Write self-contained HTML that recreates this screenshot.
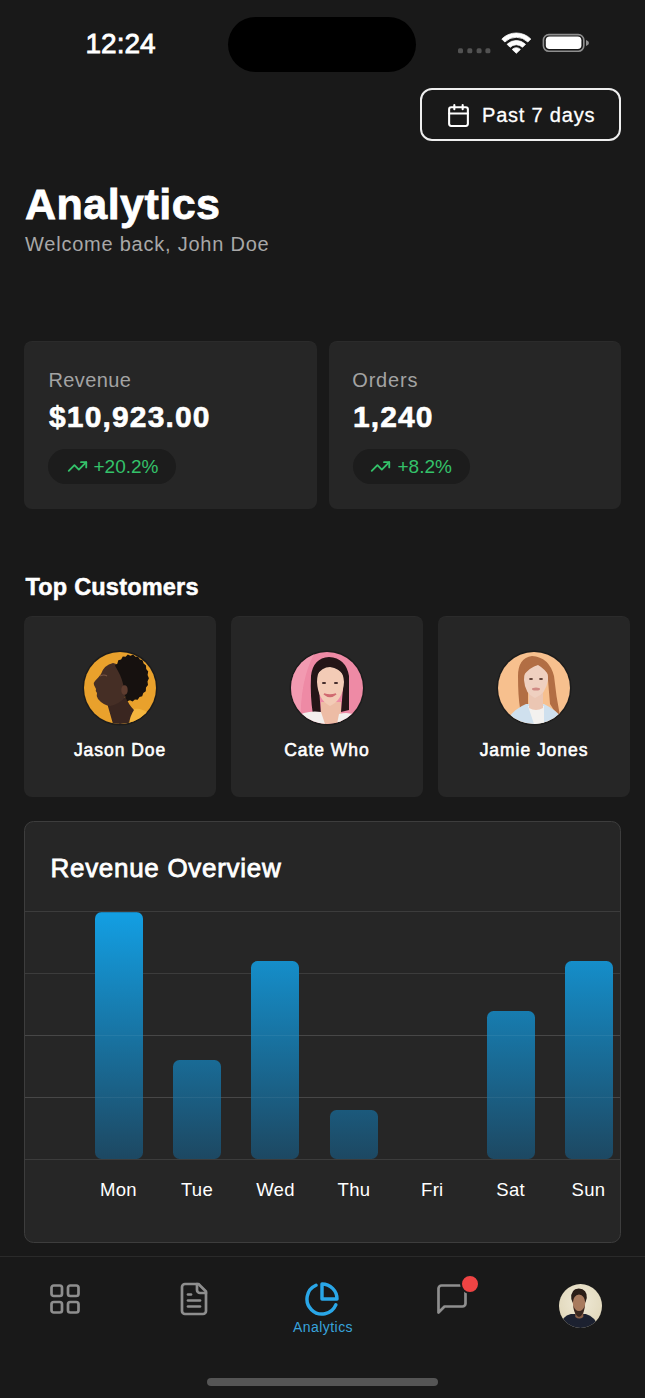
<!DOCTYPE html>
<html><head><meta charset="utf-8">
<style>
*{margin:0;padding:0;box-sizing:border-box}
html,body{width:645px;height:1398px;background:#191919;overflow:hidden}
body{position:relative;font-family:"Liberation Sans",sans-serif;color:#fff}
.abs{position:absolute;line-height:1;white-space:nowrap}
.island{left:228px;top:16.5px;width:188px;height:55px;background:#000;border-radius:27.5px}
.time{left:85.5px;top:30px;font-size:28px;-webkit-text-stroke:0.8px #fff;letter-spacing:0px}
.btn{left:420px;top:88px;width:201px;height:53px;border:2px solid #eeeeee;border-radius:12px}
.btntxt{left:482px;top:104.7px;font-size:20px;letter-spacing:0.8px;-webkit-text-stroke:0.3px #fff}
.title{left:25px;top:183px;font-size:43px;font-weight:bold;letter-spacing:0.47px;-webkit-text-stroke:0.8px #fff}
.sub{left:25px;top:233.6px;font-size:20px;color:#a8a8a8;letter-spacing:0.77px}
.card{background:#262626;border-radius:8px;box-shadow:inset 0 1px 0 rgba(255,255,255,0.025)}
.lbl{font-size:20px;color:#a3a3a3}
.val{font-size:30px;font-weight:bold;-webkit-text-stroke:0.6px #fff}
.badge{background:#1c1c1c;border-radius:18px;height:35.5px}
.green{color:#34c26a;font-size:19px}
.h2{left:25.5px;top:576.2px;font-size:23.5px;font-weight:bold;letter-spacing:0.2px;-webkit-text-stroke:0.5px #fff}
.cust{top:616px;width:192px;height:180.5px}
.av{width:72px;height:72px;border-radius:50%;overflow:hidden;box-shadow:0 0 0 1.5px #1c1c1c}
.av svg{display:block}
.name{top:741.7px;font-size:17.5px;-webkit-text-stroke:0.6px #fff;width:192px;text-align:center;letter-spacing:0.95px}
.chart{left:23.8px;top:820.6px;width:597.2px;height:422.6px;border:1.8px solid #3d3d3d;border-radius:9.5px;background:#262626}
.grid{left:25px;width:595px;height:1px;background:#3c3c3c}
.grid2{left:25px;width:595px;height:1px;background:rgba(255,255,255,0.06)}
.bar{width:48px;border-radius:6.5px;background:linear-gradient(#139fe3,#1d4862);background-size:48px 247px;background-position:0 100%}
.day{top:1180.6px;font-size:18.5px;width:80px;text-align:center;letter-spacing:0.3px}
.tabline{left:0;top:1255.5px;width:645px;height:1px;background:#2a2a2a}
.home{left:207px;top:1378px;width:231px;height:8px;border-radius:4px;background:#555555}
</style></head><body>
<div class="abs time">12:24</div>
<div class="abs island"></div>
<!-- status icons -->
<svg class="abs" style="left:450px;top:25px" width="150" height="40" viewBox="0 0 150 40">
  <g fill="#525252"><rect x="8" y="23.3" width="5" height="5" rx="1.6"/><rect x="17.3" y="23.3" width="5" height="5" rx="1.6"/><rect x="26.6" y="23.3" width="5" height="5" rx="1.6"/><rect x="35.4" y="23.3" width="5" height="5" rx="1.6"/></g>
  <g fill="#fff" stroke="#fff" stroke-width="0.8" stroke-linejoin="round">
  <path d="M51.8 14 A20.5 20.5 0 0 1 80.8 14 L77.8 17 A16.3 16.3 0 0 0 54.8 17 Z"/>
  <path d="M57.1 19.3 A13 13 0 0 1 75.5 19.3 L72.5 22.3 A8.8 8.8 0 0 0 60.1 22.3 Z"/>
  <path d="M66.3 28.3 L62.2 24.4 A5.8 5.8 0 0 1 70.4 24.4 Z"/>
  </g>
  <rect x="93.4" y="9.6" width="40.4" height="16.6" rx="5.5" fill="none" stroke="#8e8e8e" stroke-width="1.6"/>
  <rect x="95.8" y="11.4" width="35.6" height="12.6" rx="3.8" fill="#fff"/>
  <path d="M136 15 Q139 16 139 18 Q139 20 136 21Z" fill="#8e8e8e"/>
</svg>
<div class="abs btn"></div>
<svg class="abs" style="left:446px;top:102.5px" width="25" height="25" viewBox="0 0 24 24" fill="none" stroke="#fff" stroke-width="2" stroke-linecap="round" stroke-linejoin="round"><rect x="3" y="4" width="18" height="18" rx="2"/><path d="M16 2v4M8 2v4M3 10h18"/></svg>
<div class="abs btntxt">Past 7 days</div>

<div class="abs title">Analytics</div>
<div class="abs sub">Welcome back, John Doe</div>

<div class="abs card" style="left:24px;top:341px;width:292.5px;height:167.5px"></div>
<div class="abs lbl" style="left:48.5px;top:370.1px;letter-spacing:0.37px">Revenue</div>
<div class="abs val" style="left:49px;top:401.8px;letter-spacing:1.15px">$10,923.00</div>
<div class="abs badge" style="left:48.3px;top:448.8px;width:127.5px"></div>
<svg class="abs" style="left:66.5px;top:456.2px" width="21" height="21" viewBox="0 0 24 24" fill="none" stroke="#34c26a" stroke-width="2.1" stroke-linecap="round" stroke-linejoin="round"><path d="M22 7 13.5 15.5 8.5 10.5 2 17"/><path d="M16 7h6v6"/></svg>
<div class="abs green" style="left:93.5px;top:457.1px">+20.2%</div>

<div class="abs card" style="left:328.5px;top:341px;width:292.5px;height:167.5px"></div>
<div class="abs lbl" style="left:352.3px;top:370.1px;letter-spacing:0.8px">Orders</div>
<div class="abs val" style="left:353px;top:401.8px;letter-spacing:1.1px">1,240</div>
<div class="abs badge" style="left:353.3px;top:448.8px;width:116.5px"></div>
<svg class="abs" style="left:370.2px;top:456.2px" width="21" height="21" viewBox="0 0 24 24" fill="none" stroke="#34c26a" stroke-width="2.1" stroke-linecap="round" stroke-linejoin="round"><path d="M22 7 13.5 15.5 8.5 10.5 2 17"/><path d="M16 7h6v6"/></svg>
<div class="abs green" style="left:397.5px;top:457.1px">+8.2%</div>

<div class="abs h2">Top Customers</div>
<div class="abs card cust" style="left:24px"></div>
<div class="abs card cust" style="left:231px"></div>
<div class="abs card cust" style="left:438px"></div>
<div class="abs av" style="left:84px;top:652px;background:#e9a12c"><svg width="72" height="72" viewBox="0 0 72 72">
<path d="M34 62 Q46 56 56 57 Q66 60 72 68 V72 H34Z" fill="#f3b53e"/>
<path d="M23 51 L29 72 L45 72 Q46 64 50 58 Q44 52 42 45 Z" fill="#3a2620"/>
<path d="M29 11 Q36 12 40 20 L42 44 Q36 52 26 54 Q19 53 14 47 Q12 44 13 41 Q11 39 12 37 L10 33 Q9 31 11 29 Q15 25 17 22 Q20 13 29 11 Z" fill="#452e25"/>
<path d="M16 24 Q20 22 23 24" stroke="#7a5646" stroke-width="1.2" fill="none"/>
<path d="M30.9 13.5 L33.3 11.7 L34.3 8.3 L37.1 7.5 L38.8 4.6 L41.6 4.8 L43.8 2.6 L46.5 3.8 L49.1 2.6 L51.4 4.7 L54.2 4.5 L55.9 7.4 L58.6 8.2 L59.6 11.6 L62.0 13.4 L62.2 17.0 L64.2 19.6 L63.6 23.1 L64.9 26.3 L63.5 29.5 L64.0 33.0 L62.0 35.6 L61.8 39.2 L59.3 40.9 L58.2 44.2 L55.5 44.9 L53.7 47.7 L50.9 47.4 L48.6 49.5 L46.0 48.2 L43.3 49.3 Q40 44 40 36 Q38 26 34 19 Z" fill="#16110f"/>
<ellipse cx="40.5" cy="38" rx="3.2" ry="4.8" fill="#5e3c2f"/>
</svg></div>
<div class="abs av" style="left:291px;top:652px;background:#ee8aa5"><svg width="72" height="72" viewBox="0 0 72 72">
<path d="M0 0 H24 Q8 30 10 72 H0Z" fill="#f5a8bb" opacity="0.55"/>
<path d="M38 5 Q22 6 20 24 Q19 44 22 63 L30 63 L28 36 L52 36 L50 60 L58 58 Q58 40 58 24 Q55 6 38 5 Z" fill="#241517"/>
<path d="M30 50 L30 72 L50 72 L50 50 Z" fill="#edbca5"/>
<path d="M4 66 Q14 58 30 60 L34 72 L0 72 Z" fill="#f3efed"/>
<path d="M48 62 Q58 59 66 64 L72 72 H46Z" fill="#f3efed"/>
<path d="M39 13 Q26 14 26 30 Q27 48 39 54 Q52 48 53 30 Q52 14 39 13 Z" fill="#f3cbb6"/>
<path d="M39 10 Q27 11 25 24 Q31 15 39 15 Q48 16 53 24 Q51 11 39 10 Z" fill="#241517"/>
<path d="M33 42 Q39 47 45 42 Q39 44 33 42Z" fill="#d06a70" stroke="#d06a70" stroke-width="1.5"/>
<ellipse cx="33" cy="31" rx="2.2" ry="1" fill="#3a2424"/><ellipse cx="45" cy="31" rx="2.2" ry="1" fill="#3a2424"/>
</svg></div>
<div class="abs av" style="left:498px;top:652px;background:#f7c08e"><svg width="72" height="72" viewBox="0 0 72 72">
<path d="M34 4 Q20 6 20 24 Q20 44 22 56 L30 56 L30 28 L50 28 L52 52 Q58 62 62 64 Q58 44 56 24 Q51 5 34 4Z" fill="#b26e44"/>
<path d="M10 66 Q18 56 28 52 L46 52 Q58 58 64 66 L70 72 L2 72 Z" fill="#cfe0ee"/>
<path d="M30 54 L36 72 L46 72 L46 54 Z" fill="#f3f1ef"/>
<path d="M31 40 L31 56 Q38 60 45 56 L45 40 Z" fill="#ebc6b3"/>
<path d="M38 12 Q26 13 26 28 Q27 42 37 46 Q48 42 50 28 Q51 13 38 12Z" fill="#efd0c0"/>
<path d="M37 9 Q26 11 25 24 Q32 15 40 13 Q47 17 51 24 Q49 9 37 9Z" fill="#b26e44"/>
<ellipse cx="38" cy="37" rx="4" ry="1.5" fill="#d08a84"/>
<ellipse cx="33" cy="27" rx="2" ry="0.9" fill="#5a3a30"/><ellipse cx="43" cy="27" rx="2" ry="0.9" fill="#5a3a30"/>
</svg></div>
<div class="abs name" style="left:24px">Jason Doe</div>
<div class="abs name" style="left:231px">Cate Who</div>
<div class="abs name" style="left:438px">Jamie Jones</div>

<div class="abs chart"></div>
<div class="abs" style="left:50.5px;top:855.3px;font-size:26px;-webkit-text-stroke:0.8px #fff;letter-spacing:0.7px">Revenue Overview</div>
<div class="abs grid" style="top:911px"></div>
<div class="abs grid" style="top:973px"></div>
<div class="abs grid" style="top:1035px"></div>
<div class="abs grid" style="top:1097px"></div>
<div class="abs grid" style="top:1159px"></div>
<div class="abs bar" style="left:94.5px;top:911.7px;height:247.3px"></div>
<div class="abs bar" style="left:173px;top:1060px;height:99px"></div>
<div class="abs bar" style="left:251px;top:961px;height:198px"></div>
<div class="abs bar" style="left:330px;top:1110px;height:49px"></div>
<div class="abs bar" style="left:487px;top:1010.5px;height:148.5px"></div>
<div class="abs bar" style="left:565px;top:961px;height:198px"></div>
<div class="abs grid2" style="top:1035px"></div>
<div class="abs grid2" style="top:1097px"></div>
<div class="abs day" style="left:78.5px">Mon</div>
<div class="abs day" style="left:157px">Tue</div>
<div class="abs day" style="left:235.5px">Wed</div>
<div class="abs day" style="left:314px">Thu</div>
<div class="abs day" style="left:392.3px">Fri</div>
<div class="abs day" style="left:470.7px">Sat</div>
<div class="abs day" style="left:548.5px">Sun</div>

<div class="abs tabline"></div>
<!-- tab icons -->
<svg class="abs" style="left:46.5px;top:1281px" width="36" height="36" viewBox="0 0 24 24" fill="none" stroke="#8e8e8e" stroke-width="1.8" stroke-linecap="round" stroke-linejoin="round"><rect width="7" height="7" x="3" y="3" rx="1.5"/><rect width="7" height="7" x="14" y="3" rx="1.5"/><rect width="7" height="7" x="14" y="14" rx="1.5"/><rect width="7" height="7" x="3" y="14" rx="1.5"/></svg>
<svg class="abs" style="left:175.7px;top:1281px" width="36" height="36" viewBox="0 0 24 24" fill="none" stroke="#8e8e8e" stroke-width="1.8" stroke-linecap="round" stroke-linejoin="round"><path d="M15 2H6a2 2 0 0 0-2 2v16a2 2 0 0 0 2 2h12a2 2 0 0 0 2-2V7Z"/><path d="M14 2v4a2 2 0 0 0 2 2h4"/><path d="M10 9H8"/><path d="M16 13H8"/><path d="M16 17H8"/></svg>
<svg class="abs" style="left:304.4px;top:1281.4px" width="36" height="36" viewBox="0 0 24 24" fill="none" stroke="#2aa7e8" stroke-width="2.3" stroke-linecap="round" stroke-linejoin="round"><path d="M21.21 15.89A10 10 0 1 1 8 2.83"/><path d="M22 12A10 10 0 0 0 12 2v10z"/></svg>
<div class="abs" style="left:293px;top:1320px;font-size:14px;color:#38a3dc;letter-spacing:0.45px">Analytics</div>
<svg class="abs" style="left:433.8px;top:1281px" width="36" height="36" viewBox="0 0 24 24" fill="none" stroke="#8e8e8e" stroke-width="1.8" stroke-linecap="round" stroke-linejoin="round"><path d="M21 15a2 2 0 0 1-2 2H7l-4 4V5a2 2 0 0 1 2-2h14a2 2 0 0 1 2 2z"/></svg>
<div class="abs" style="left:459.6px;top:1274px;width:20px;height:20px;border-radius:50%;background:#ef4444;border:2.2px solid #1a1a1a"></div>
<div class="abs" style="left:559.2px;top:1283.5px;width:43px;height:44px;border-radius:50%;overflow:hidden;background:radial-gradient(circle at 50% 40%,#efe9d6 0%,#e2d9bd 70%,#a89e84 100%)"><svg width="43" height="44" viewBox="0 0 43 44" style="display:block">
<g transform="translate(-1.2,0)">
<path d="M1 44 Q4 32 13 30 L28 30 Q37 32 41 44 Z" fill="#1c2130"/>
<path d="M17.5 26 L17.5 33 Q21.5 36 25.5 33 L25.5 26 Z" fill="#8a6048"/>
<path d="M21.2 9 Q14.5 9.5 15 19 Q15.5 29 21.2 32 Q27 29 27.5 19 Q28 9.5 21.2 9Z" fill="#a87a5e"/>
<path d="M15.5 21 Q16 31 21.2 33 Q26.5 31 27 21 Q25.5 27 21.2 27 Q17 27 15.5 21Z" fill="#3a2820"/>
<path d="M21 4.5 Q12.5 5 13.5 15 L15 19 Q15.5 11 21.2 10.5 Q27 11 27.5 19 L29 14 Q29.5 5 21 4.5Z" fill="#2a1d17"/>
</g></svg></div>
<div class="abs home"></div>
</body></html>
